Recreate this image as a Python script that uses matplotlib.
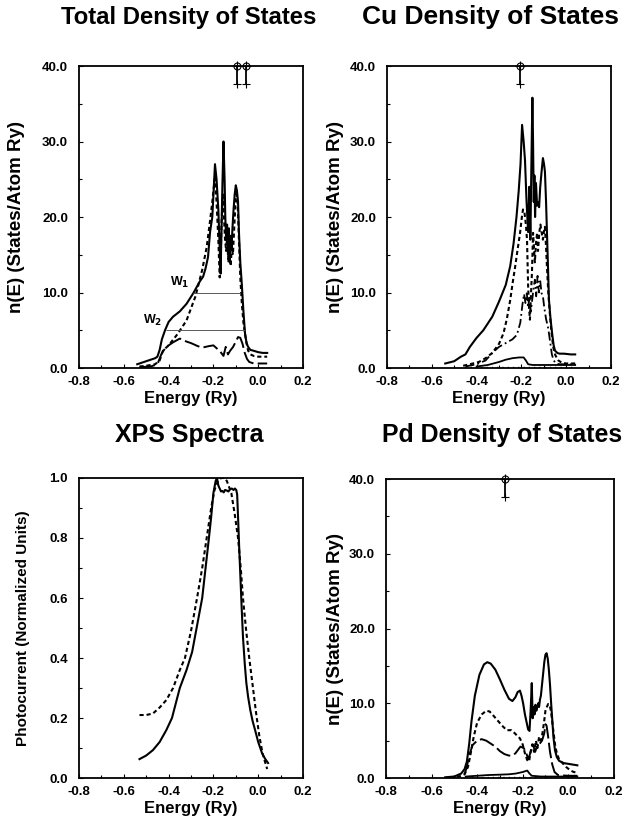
#Density of states panels and XPS spectra for a Cu-Pd alloy

#import modules
import matplotlib
matplotlib.use("Agg")
import matplotlib.pyplot as plt
from matplotlib.ticker import MultipleLocator, FormatStrFormatter

plt.rcParams['font.family'] = ['Liberation Sans', 'DejaVu Sans']
plt.rcParams['font.weight'] = 'bold'
plt.rcParams['axes.unicode_minus'] = False

#---- Total density of states ----
tot_E = [-0.54,-0.50,-0.46,-0.45,-0.44,-0.43,-0.416,-0.40,-0.38,-0.35,-0.32,-0.29,-0.26,-0.246,-0.235,-0.224,
         -0.215,-0.205,-0.198,-0.193,-0.186,-0.178,-0.172,-0.168,-0.164,-0.160,-0.155,-0.150,-0.147,-0.143,
         -0.139,-0.135,-0.131,-0.127,-0.123,-0.119,-0.115,-0.110,-0.105,-0.100,-0.095,-0.090,-0.086,-0.080,
         -0.073,-0.066,-0.059,-0.052,-0.045,-0.035,-0.022,0.0,0.02,0.04]
tot_n = [0.5,0.9,1.3,1.5,2.4,3.8,5.0,6.1,6.8,7.5,8.5,9.9,11.5,12.1,13.2,14.7,18.0,20.0,24.0,27.0,25.0,21.0,
         16.0,12.5,18.0,24.0,30.0,25.0,20.0,17.0,19.0,15.0,18.5,14.0,17.5,16.0,18.5,21.0,23.0,24.2,23.5,
         22.0,18.0,14.0,11.0,7.5,4.6,3.3,2.8,2.4,2.3,2.1,2.0,2.0]
totd_E = [-0.53,-0.50,-0.46,-0.44,-0.425,-0.40,-0.36,-0.32,-0.28,-0.25,-0.23,-0.215,-0.205,-0.198,-0.193,
          -0.186,-0.178,-0.172,-0.168,-0.164,-0.158,-0.153,-0.148,-0.143,-0.138,-0.133,-0.128,-0.123,-0.118,
          -0.113,-0.108,-0.103,-0.098,-0.092,-0.086,-0.080,-0.073,-0.066,-0.059,-0.052,-0.045,-0.035,-0.02,
          0.0,0.02,0.04]
totd_n = [0.2,0.3,0.5,1.0,2.3,3.0,4.5,6.3,9.5,13.0,16.0,19.5,22.0,24.0,25.5,22.0,17.0,12.0,14.0,19.0,23.0,
          20.0,17.0,15.5,18.0,14.0,16.5,13.5,16.0,15.0,18.0,21.0,23.5,22.0,17.0,12.0,8.5,6.0,4.5,3.3,2.3,
          1.8,1.6,1.5,1.5,1.5]
totl_E = [-0.53,-0.48,-0.45,-0.43,-0.41,-0.38,-0.35,-0.32,-0.30,-0.27,-0.25,-0.22,-0.20,-0.185,-0.17,-0.155,
          -0.145,-0.135,-0.125,-0.112,-0.10,-0.09,-0.08,-0.07,-0.06,-0.05,-0.04,-0.02,0.0,0.02,0.04]
totl_n = [0.1,0.2,0.5,2.0,2.8,3.4,3.9,3.5,3.3,2.9,2.7,2.9,3.0,2.6,2.2,1.6,2.8,1.8,2.3,2.8,3.5,4.1,4.0,3.2,
          2.0,1.2,0.8,0.6,0.6,0.6,0.6]
# band width markers
w_levels = [10.0, 5.0]
w_start = [-0.29, -0.412]
w_end = [-0.081, -0.059]
w_labels = ['W$_1$', 'W$_2$']
tot_marks = [-0.093, -0.054]

#---- Cu density of states ----
cu_E = [-0.54,-0.50,-0.47,-0.45,-0.43,-0.40,-0.37,-0.33,-0.30,-0.27,-0.25,-0.235,-0.222,-0.212,-0.204,-0.197,
        -0.19,-0.184,-0.177,-0.17,-0.165,-0.16,-0.155,-0.151,-0.148,-0.145,-0.142,-0.139,-0.135,-0.13,-0.125,
        -0.121,-0.116,-0.11,-0.104,-0.099,-0.095,-0.09,-0.086,-0.081,-0.077,-0.07,-0.063,-0.056,-0.05,-0.04,
        -0.03,-0.01,0.02,0.04]
cu_n = [0.6,0.9,1.5,1.8,2.8,4.0,5.0,6.8,8.8,11.0,13.5,16.5,20.0,23.5,27.0,32.2,30.0,27.5,22.0,18.0,24.0,17.0,
        28.0,35.8,30.0,22.0,25.5,20.0,24.5,21.5,22.0,21.3,24.0,26.0,27.8,27.0,26.0,22.0,18.0,13.0,9.0,6.5,
        4.6,3.0,2.3,2.0,1.9,1.9,1.8,1.8]
cud_E = [-0.46,-0.43,-0.39,-0.36,-0.33,-0.30,-0.28,-0.265,-0.25,-0.238,-0.228,-0.218,-0.206,-0.198,-0.193,
         -0.186,-0.18,-0.175,-0.17,-0.166,-0.162,-0.157,-0.153,-0.148,-0.144,-0.14,-0.135,-0.13,-0.126,-0.12,
         -0.115,-0.11,-0.104,-0.1,-0.095,-0.09,-0.086,-0.08,-0.072,-0.065,-0.058,-0.05,-0.045,-0.035,-0.02,
         0.0,0.02,0.04]
cud_n = [0.3,0.5,0.8,1.3,2.0,3.2,4.6,6.5,9.0,11.5,13.4,15.5,17.9,20.0,21.0,20.5,19.0,17.0,10.8,8.0,6.4,10.0,
         12.6,17.9,16.0,14.0,16.5,17.9,15.5,18.0,19.0,18.0,17.0,18.0,18.7,16.0,13.4,10.0,6.8,4.5,2.8,1.8,
         1.5,1.0,0.7,0.6,0.6,0.6]
cudd_E = [-0.45,-0.40,-0.36,-0.33,-0.30,-0.27,-0.24,-0.22,-0.205,-0.195,-0.188,-0.182,-0.176,-0.17,-0.164,
          -0.158,-0.152,-0.146,-0.14,-0.134,-0.128,-0.122,-0.116,-0.11,-0.104,-0.098,-0.09,-0.08,-0.072,
          -0.064,-0.056,-0.045,-0.03,0.0,0.02,0.04]
cudd_n = [0.2,0.5,1.0,2.0,2.8,3.3,3.8,4.4,6.0,8.5,9.8,8.6,9.9,8.0,9.5,7.5,9.0,10.5,11.7,9.5,12.2,10.0,11.5,
          9.9,9.5,8.0,6.5,5.2,3.5,1.8,1.0,0.6,0.5,0.5,0.5,0.5]
cus_E = [-0.40,-0.35,-0.30,-0.27,-0.24,-0.21,-0.19,-0.18,-0.17,-0.15,-0.12,-0.08,-0.04,0.0,0.04]
cus_n = [0.2,0.4,0.8,1.1,1.3,1.4,1.4,1.0,0.5,0.4,0.4,0.4,0.4,0.4,0.4]
cu_marks = [-0.206]

#---- XPS spectra ----
xps_E = [-0.53,-0.50,-0.47,-0.44,-0.41,-0.385,-0.35,-0.32,-0.295,-0.27,-0.25,-0.235,-0.22,-0.21,-0.20,-0.19,
         -0.184,-0.178,-0.172,-0.166,-0.16,-0.154,-0.148,-0.14,-0.133,-0.126,-0.118,-0.11,-0.104,-0.098,
         -0.094,-0.09,-0.085,-0.08,-0.074,-0.068,-0.06,-0.053,-0.045,-0.035,-0.025,-0.014,0.0,0.017,0.03,0.044]
xps_n = [0.063,0.075,0.093,0.12,0.16,0.20,0.30,0.36,0.42,0.52,0.60,0.70,0.80,0.87,0.95,0.99,1.0,0.975,0.965,
         0.955,0.957,0.952,0.96,0.958,0.955,0.962,0.965,0.96,0.965,0.96,0.945,0.87,0.77,0.68,0.57,0.47,0.38,
         0.317,0.27,0.225,0.19,0.16,0.12,0.083,0.065,0.05]
xpsd_E = [-0.53,-0.50,-0.47,-0.44,-0.41,-0.38,-0.35,-0.327,-0.30,-0.273,-0.25,-0.23,-0.21,-0.195,-0.18,-0.165,
          -0.15,-0.14,-0.12,-0.105,-0.09,-0.078,-0.068,-0.055,-0.04,-0.025,-0.01,0.005,0.02,0.04]
xpsd_n = [0.21,0.21,0.215,0.235,0.26,0.30,0.36,0.40,0.49,0.60,0.70,0.80,0.90,0.96,0.99,1.0,1.0,0.99,0.95,
          0.88,0.80,0.70,0.60,0.50,0.40,0.31,0.22,0.14,0.08,0.03]

#---- Pd density of states ----
pd_E = [-0.54,-0.50,-0.47,-0.455,-0.445,-0.435,-0.425,-0.41,-0.39,-0.37,-0.355,-0.34,-0.32,-0.30,-0.28,-0.26,
        -0.245,-0.232,-0.222,-0.212,-0.205,-0.198,-0.19,-0.183,-0.176,-0.17,-0.165,-0.16,-0.156,-0.152,-0.148,
        -0.144,-0.14,-0.136,-0.132,-0.128,-0.124,-0.12,-0.115,-0.11,-0.105,-0.1,-0.095,-0.09,-0.085,-0.08,
        -0.075,-0.07,-0.065,-0.058,-0.05,-0.04,-0.02,0.0,0.02,0.04]
pd_n = [0.1,0.2,0.6,1.2,2.2,4.5,7.5,11.0,13.8,15.2,15.5,15.3,14.5,13.2,11.8,10.6,10.3,10.8,11.5,11.7,11.0,
        10.0,8.5,7.5,6.5,6.3,9.0,12.7,8.0,9.5,8.5,9.8,9.0,9.5,10.0,9.5,10.5,11.0,12.5,14.0,15.5,16.5,16.7,
        16.0,14.5,12.5,10.0,7.8,5.5,3.7,2.8,2.3,2.0,1.9,1.8,1.7]
pdd_E = [-0.52,-0.48,-0.455,-0.44,-0.43,-0.415,-0.40,-0.38,-0.36,-0.345,-0.33,-0.31,-0.29,-0.27,-0.25,-0.235,
         -0.222,-0.212,-0.2,-0.19,-0.18,-0.172,-0.165,-0.158,-0.15,-0.142,-0.135,-0.128,-0.12,-0.113,-0.106,
         -0.1,-0.094,-0.088,-0.082,-0.076,-0.07,-0.064,-0.058,-0.05,-0.04,-0.025,-0.01,0.01,0.025,0.04]
pdd_n = [0.1,0.2,0.5,1.5,3.0,5.5,7.4,8.5,9.0,8.9,8.4,7.7,7.0,6.4,6.4,6.0,5.6,5.3,4.5,3.3,2.4,2.2,3.5,4.5,
         3.5,5.0,4.0,5.5,5.0,6.0,7.5,9.0,9.5,9.9,9.8,9.0,7.5,6.0,4.5,3.3,2.5,2.0,1.5,1.0,0.8,0.7]
pdl_E = [-0.455,-0.445,-0.435,-0.42,-0.40,-0.38,-0.36,-0.34,-0.32,-0.30,-0.28,-0.26,-0.245,-0.232,-0.222,
         -0.21,-0.195,-0.185,-0.175,-0.165,-0.155,-0.145,-0.135,-0.125,-0.115,-0.105,-0.1,-0.095,-0.088,
         -0.08,-0.07,-0.06,-0.045,0.0,0.04]
pdl_n = [0.5,1.5,3.0,4.4,5.0,5.2,5.0,4.6,4.2,3.6,3.2,3.0,3.0,3.3,3.7,4.2,4.0,3.4,2.5,3.5,4.5,3.5,4.5,4.6,
         5.0,6.0,7.2,7.0,5.5,3.5,1.8,0.8,0.4,0.3,0.3]
pds_E = [-0.45,-0.40,-0.35,-0.30,-0.26,-0.23,-0.2,-0.18,-0.17,-0.16,-0.12,-0.08,-0.04,0.0,0.04]
pds_n = [0.2,0.3,0.4,0.45,0.5,0.6,0.8,1.0,0.6,0.3,0.2,0.2,0.2,0.2,0.2]
pd_marks = [-0.278]

SHORT = (0, (2.0, 1.4))
LONG = (0, (8, 2.2))
DASHDOT = (0, (5, 1.8, 1, 1.8))
DOTS = (0, (0.8, 3))

fig = plt.figure(figsize=(6.24, 8.22), dpi=100)

def setup(ax, title, tsize, tx, ty, ylabel, ymax, ymajor, ylab_size, ylab_x):
    ax.set_xlim(-0.8, 0.2)
    ax.set_ylim(0, ymax)
    ax.xaxis.set_major_locator(MultipleLocator(0.2))
    ax.xaxis.set_minor_locator(MultipleLocator(0.1))
    ax.yaxis.set_major_locator(MultipleLocator(ymajor))
    ax.yaxis.set_minor_locator(MultipleLocator(ymajor / 2))
    ax.xaxis.set_major_formatter(FormatStrFormatter('%.1f'))
    ax.yaxis.set_major_formatter(FormatStrFormatter('%.1f'))
    ax.tick_params(which='both', direction='in', labelsize=9.5, width=0.8)
    ax.tick_params(which='major', length=3)
    ax.tick_params(which='minor', length=2)
    ax.tick_params(axis='x', pad=6)
    ax.tick_params(axis='y', pad=8)
    for lbl in ax.get_xticklabels() + ax.get_yticklabels():
        lbl.set_fontweight('bold')
    for s in ax.spines.values():
        s.set_linewidth(1.3)
    # panel title placed above the frame
    ax.text(tx, ty, title, transform=ax.transAxes, ha='center', va='baseline',
            fontsize=tsize, fontweight='bold')
    ax.set_xlabel('Energy (Ry)', fontsize=12, fontweight='bold', labelpad=2)
    ax.set_ylabel(ylabel, fontsize=ylab_size, fontweight='bold')
    ax.yaxis.set_label_coords(ylab_x, 0.5)

def marks(ax, positions):
    # vertical markers hanging from the top of the frame
    for e in positions:
        ax.plot([e, e], [40, 37.6], color='k', lw=1.3, clip_on=False)
        ax.plot(e, 40, marker='o', ms=5, mfc='none', mec='k', mew=0.8, clip_on=False)
        ax.plot(e, 40, marker='+', ms=7, mec='k', mew=0.8, clip_on=False)
        ax.plot(e, 37.6, marker='+', ms=6, mec='k', mew=0.8)

ylab = 'n(E) (States/Atom Ry)'

#Total DOS
ax1 = fig.add_axes([0.1266, 0.5523, 0.359, 0.3674])
ax1.plot(tot_E, tot_n, color='k', lw=1.5)
ax1.plot(totd_E, totd_n, color='k', lw=1.5, linestyle=SHORT)
ax1.plot(totl_E, totl_n, color='k', lw=1.4, linestyle=LONG)
for lev, a, b, lab in zip(w_levels, w_start, w_end, w_labels):
    ax1.hlines(lev, a, b, color='0.35', lw=0.7)
    ax1.text(a - 0.015, lev + 0.3, lab, ha='right', va='bottom', fontsize=9, fontweight='bold')
marks(ax1, tot_marks)
setup(ax1, 'Total Density of States', 17.2, 0.49, 1.14, ylab, 40, 10, 13.5, -0.24)

#Cu DOS
ax2 = fig.add_axes([0.6202, 0.5523, 0.359, 0.3674])
ax2.plot(cu_E, cu_n, color='k', lw=1.5)
ax2.plot(cud_E, cud_n, color='k', lw=1.5, linestyle=SHORT)
ax2.plot(cudd_E, cudd_n, color='k', lw=1.3, linestyle=DASHDOT)
ax2.plot(cus_E, cus_n, color='k', lw=1.3)
ax2.plot([-0.45, 0.04], [0.15, 0.15], color='k', lw=1.0, linestyle=DOTS)
marks(ax2, cu_marks)
setup(ax2, 'Cu Density of States', 19.0, 0.46, 1.14, ylab, 40, 10, 13.5, -0.19)

#XPS
ax3 = fig.add_axes([0.1266, 0.0535, 0.359, 0.365])
ax3.plot(xps_E, xps_n, color='k', lw=1.5)
ax3.plot(xpsd_E, xpsd_n, color='k', lw=1.5, linestyle=SHORT)
setup(ax3, 'XPS Spectra', 18, 0.49, 1.12, 'Photocurrent (Normalized Units)', 1.0, 0.2, 11, -0.22)

#Pd DOS
ax4 = fig.add_axes([0.6186, 0.0535, 0.365, 0.3637])
ax4.plot(pd_E, pd_n, color='k', lw=1.5)
ax4.plot(pdd_E, pdd_n, color='k', lw=1.5, linestyle=SHORT)
ax4.plot(pdl_E, pdl_n, color='k', lw=1.4, linestyle=LONG)
ax4.plot(pds_E, pds_n, color='k', lw=1.3)
ax4.plot([-0.45, 0.04], [0.1, 0.1], color='k', lw=1.0, linestyle=DOTS)
marks(ax4, pd_marks)
setup(ax4, 'Pd Density of States', 17.9, 0.51, 1.124, ylab, 40, 10, 13.5, -0.184)

plt.savefig('out.png', dpi=100)
